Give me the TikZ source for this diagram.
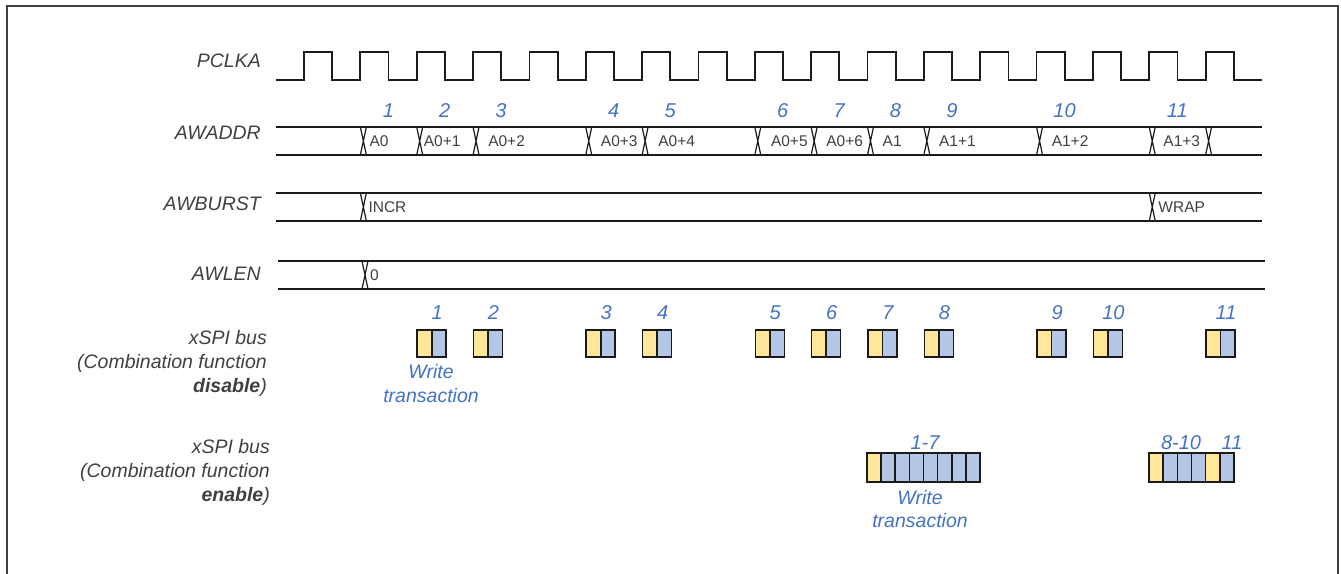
\documentclass[tikz,border=0pt]{standalone}
\usepackage{fontspec}
\setmainfont{Liberation Sans}
\definecolor{txtgray}{HTML}{404040}
\definecolor{numblue}{HTML}{4472C4}
\definecolor{wavec}{HTML}{1A1A1A}
\definecolor{framec}{HTML}{404040}
\definecolor{ylw}{HTML}{FFE699}
\definecolor{blu}{HTML}{B4C7E7}
\begin{document}
\begin{tikzpicture}[x=1pt,y=-1pt,
  sig/.style={font=\fontsize{19.5}{24}\selectfont\itshape, text=txtgray, anchor=east, align=right, inner sep=0},
  val/.style={font=\fontsize{15.5}{18}\selectfont, text=txtgray, anchor=west, inner sep=0},
  num/.style={font=\fontsize{20}{23}\selectfont\itshape, text=numblue, inner sep=0},
  wtr/.style={font=\fontsize{19.5}{23.5}\selectfont\itshape, text=numblue, inner sep=0, align=center},
  wave/.style={draw=wavec, line width=1.8pt},
  xing/.style={draw=wavec, line width=1.2pt},
  yb/.style={draw=wavec, line width=1.6pt, fill=ylw},
  bb/.style={draw=wavec, line width=1.6pt, fill=blu},
]
\useasboundingbox (0,0) rectangle (1341,573);
\draw[draw=framec, line width=2pt] (7,574) -- (7,6) -- (1338,6) -- (1338,574);

% signal names
\node[sig] (lclk) at (261,61) {PCLKA};
\node[sig] (laddr) at (261,133) {AWADDR};
\node[sig] (lburst) at (261,204) {AWBURST};
\node[sig] (llen) at (261,274) {AWLEN};
\node[sig] (ldis) at (267,363) {xSPI bus\\(Combination function\\\textbf{disable})};
\node[sig] (len) at (270,472) {xSPI bus\\(Combination function\\\textbf{enable})};

% clock
\draw[wave, line join=miter] (276,80) \foreach \k in {0,...,16}{ -- ({304+56.35*\k},80) -- ({304+56.35*\k},52) -- ({332.2+56.35*\k},52) -- ({332.2+56.35*\k},80)} -- (1262,80);

% AWADDR
\draw[wave] (276,127) -- (1262,127);
\draw[wave] (276,155) -- (1262,155);
\foreach \k in {1,2,3,5,6,8,9,10,11,13,15,16}
  \draw[xing] ({307+56.35*\k-3},127) -- ({307+56.35*\k+3},155)
              ({307+56.35*\k-3},155) -- ({307+56.35*\k+3},127);
\foreach \k/\o/\t [count=\i] in {1/6/A0,2/4/A0+1,3/12/A0+2,5/12/A0+3,6/13/A0+4,8/13/A0+5,9/12/A0+6,10/12/A1,11/12/A1+1,13/12/A1+2,15/11/A1+3}
  \node[val] (a\i) at ({307+56.35*\k+\o},141.5) {\t};
\foreach \k [count=\i] in {1,2,3,5,6,8,9,10,11,13,15}
  \node[num] (an\i) at ({307+56.35*\k+25},111) {\i};

% AWBURST
\draw[wave] (276,193) -- (1262,193);
\draw[wave] (276,221) -- (1262,221);
\foreach \k in {1,15}
  \draw[xing] ({307+56.35*\k-3},193) -- ({307+56.35*\k+3},221)
              ({307+56.35*\k-3},221) -- ({307+56.35*\k+3},193);
\node[val] (incr) at ({307+56.35+5},207.5) {INCR};
\node[val] (wrap) at ({307+56.35*15+6},207.5) {WRAP};

% AWLEN
\draw[wave] (278,261) -- (1265,261);
\draw[wave] (278,289) -- (1265,289);
\draw[xing] (362,261) -- (368,289) (362,289) -- (368,261);
\node[val] (zero) at (370,275.5) {0};

% xSPI disable
\foreach \k [count=\i] in {2,3,5,6,8,9,10,11,13,14,16} {
  \path[yb] ({304.5+56.35*\k},330) rectangle ++(14.5,27);
  \path[bb] ({319+56.35*\k},330) rectangle ++(14.5,27);
  \node[num] (dn\i) at ({324.5+56.35*\k},313) {\i};
}
\node[wtr] (wt1) at (431,383.5) {Write\\transaction};

% xSPI enable
\path[yb] (867,453) rectangle ++(14.125,29);
\foreach \j in {1,...,7}
  \path[bb] ({867+14.125*\j},453) rectangle ++(14.125,29);
\node[num] (e17) at (925,443) {1-7};
\node[wtr] (wt2) at (920,509) {Write\\transaction};

\foreach \j in {0,4}
  \path[yb] ({1149+14.17*\j},453) rectangle ++(14.17,29);
\foreach \j in {1,2,3,5}
  \path[bb] ({1149+14.17*\j},453) rectangle ++(14.17,29);
\node[num] (e810) at (1181,443) {8-10};
\node[num] (e11) at (1232,443) {11};
\end{tikzpicture}
\end{document}
